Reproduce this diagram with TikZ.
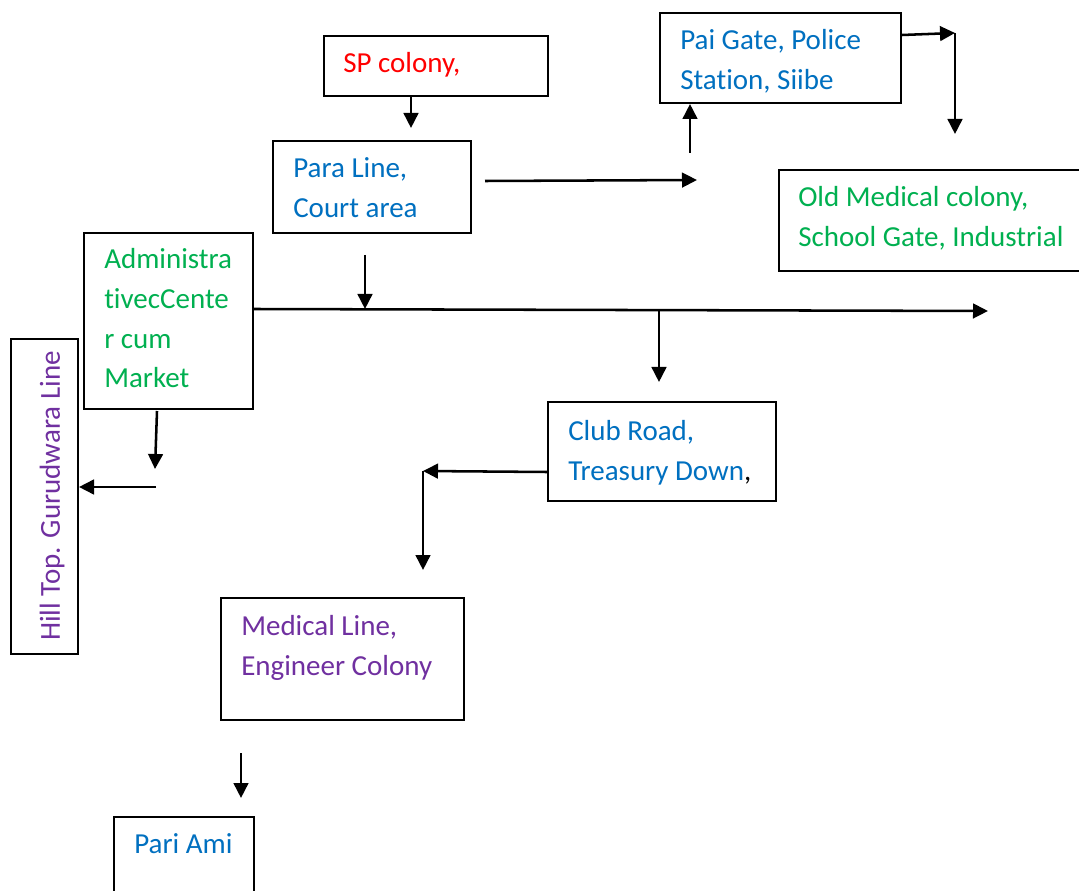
\documentclass[tikz,border=0pt]{standalone}
\usepackage{fontspec}
\setmainfont{Carlito}[Ligatures={NoCommon}]
\usetikzlibrary{arrows.meta}
\definecolor{cblue}{HTML}{0070C0}
\definecolor{cgreen}{HTML}{00B050}
\definecolor{cred}{HTML}{FF0000}
\definecolor{cpurple}{HTML}{7030A0}
\tikzset{
  box/.style={draw=black, line width=1.5pt, anchor=north west, inner sep=0pt},
  txt/.style={anchor=base west, inner sep=0pt, align=left, font=\fontsize{21.75pt}{30pt}\selectfont},
  conn/.style={line width=1.9pt, -{Triangle[length=11.25pt,width=11pt]}},
}
\begin{document}
\begin{tikzpicture}[x=0.75pt,y=-0.75pt]
\clip (0,0) rectangle (1079,891);
\fill[white] (0,0) rectangle (1079,891);
% boxes (text anchored at baseline of its last line)
\node[box, minimum width=168pt, minimum height=45pt] (sp) at (323,35) {};
\node[txt, text=cred] (spt) at (343,73) {SP colony,};
\node[box, minimum width=148.5pt, minimum height=69pt] (para) at (272,140) {};
\node[txt, text=cblue] (parat) at (293,218) {Para Line,\\Court area};
\node[box, minimum width=180.75pt, minimum height=67.5pt] (pai) at (659,12) {};
\node[txt, text=cblue] (pait) at (680,90) {Pai Gate, Police\\Station, Siibe};
\node[box, minimum width=240pt, minimum height=75.75pt] (old) at (778,169) {};
\node[txt, text=cgreen] (oldt) at (798,247) {Old Medical colony,\\School Gate, Industrial};
\node[box, minimum width=126.75pt, minimum height=132pt] (adm) at (83,232) {};
\node[txt, text=cgreen] (admt) at (104,388) {Administra\\tivecCente\\r cum\\Market};
\node[box, minimum width=50.25pt, minimum height=236.25pt] (hill) at (10,338) {};
\node[txt, text=cpurple, rotate=90] (hillt) at (60,641) {Hill Top. Gurudwara Line};
\node[box, minimum width=171pt, minimum height=74.25pt] (club) at (547,401) {};
\node[txt, text=cblue] (clubt) at (568,480) {Club Road,\\Treasury Down\textcolor{black}{,}};
\node[box, minimum width=182.25pt, minimum height=91.5pt] (med) at (220,597) {};
\node[txt, text=cpurple] (medt) at (241,675) {Medical Line,\\Engineer Colony};
\node[box, minimum width=105pt, minimum height=90pt] (pari) at (113,816) {};
\node[txt, text=cblue] (parit) at (134,853) {Pari Ami};
% free-end coordinates
\coordinate (a1) at (411,128);
\coordinate (b0) at (485,181);
\coordinate (b1) at (697,180);
\coordinate (c0) at (690,153);
\coordinate (d0) at (955,33);
\coordinate (d1) at (955,134);
\coordinate (e0) at (365,255);
\coordinate (e1) at (365,309);
\coordinate (m1) at (988,311);
\coordinate (f0) at (659,311);
\coordinate (f1) at (659,382);
\coordinate (g1) at (423,471);
\coordinate (g2) at (423,570);
\coordinate (h0) at (157,411);
\coordinate (h1) at (155,469);
\coordinate (i0) at (156,487);
\coordinate (j0) at (241,753);
\coordinate (j1) at (241,798);
% connectors
\draw[conn] (sp.south -| a1) -- (a1);
\draw[conn] (b0) -- (b1);
\draw[conn] (c0) -- (c0 |- pai.south);
\draw[conn] (pai.east |- 0,35) -- (d0);
\draw[conn] (d0) -- (d1);
\draw[conn] (e0) -- (e1);
\draw[conn] (adm.east |- 0,309) -- (m1);
\draw[conn] (f0) -- (f1);
\draw[conn] (club.west |- 0,472) -- (g1);
\draw[conn] (g1) -- (g2);
\draw[conn] (h0) -- (h1);
\draw[conn] (i0) -- (i0 -| hill.east);
\draw[conn] (j0) -- (j1);
\end{tikzpicture}
\end{document}
